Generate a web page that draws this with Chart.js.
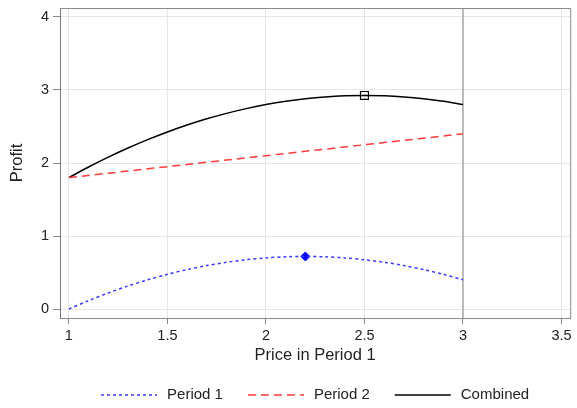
<!DOCTYPE html>
<html>
<head>
<meta charset="utf-8">
<script src="https://cdn.jsdelivr.net/npm/chart.js@4.4.1/dist/chart.umd.min.js"></script>
<style>
  html, body { margin: 0; padding: 0; background: #fff; }
</style>
</head>
<body>
<canvas id="profit-chart" width="577" height="408"></canvas>
<script>
const prices = [1.0, 1.1, 1.2, 1.3, 1.4, 1.5, 1.6, 1.7, 1.8, 1.9, 2.0, 2.1, 2.2, 2.3, 2.4, 2.5, 2.6, 2.7, 2.8, 2.9, 3.0];
const period1 = [0, 0.115, 0.22, 0.315, 0.40, 0.475, 0.54, 0.595, 0.64, 0.675, 0.70, 0.715, 0.72, 0.715, 0.70, 0.675, 0.64, 0.595, 0.54, 0.475, 0.40];
const period2 = [1.80, 1.83, 1.86, 1.89, 1.92, 1.95, 1.98, 2.01, 2.04, 2.07, 2.10, 2.13, 2.16, 2.19, 2.22, 2.25, 2.28, 2.31, 2.34, 2.37, 2.40];
const combined = [1.80, 1.945, 2.08, 2.205, 2.32, 2.425, 2.52, 2.605, 2.68, 2.745, 2.80, 2.845, 2.88, 2.905, 2.92, 2.925, 2.92, 2.905, 2.88, 2.845, 2.80];

// optimum markers
const peak1X = [2.2];
const peak1Y = [0.72];
const peakCombX = [2.5];
const peakCombY = [2.925];

const capPrice = 3; // vertical reference line

const xTicks = [1, 1.5, 2, 2.5, 3, 3.5];
const yTicks = [0, 1, 2, 3, 4];

const blue = "#3a3aff";
const red = "#ff3a3a";
const black = "#000000";
const textColor = "#222222";
const gridColor = "#e6e6e6";
const axisColor = "#8a8a8a";

Chart.defaults.font.family = "'Liberation Sans', Arial, sans-serif";

const toPoints = (xs, ys) => xs.map((x, i) => ({ x: x, y: ys[i] }));

const legendItems = [
  { text: "Period 1", color: blue, dash: [3, 3] },
  { text: "Period 2", color: red, dash: [8, 5] },
  { text: "Combined", color: black, dash: [] },
];

// frame, vertical line at the price cap, and the bottom legend
const extras = {
  id: "extras",
  beforeDatasetsDraw(chart) {
    const { ctx, chartArea, scales } = chart;
    const px = scales.x.getPixelForValue(capPrice);
    ctx.save();
    ctx.strokeStyle = "#a8a8a8";
    ctx.lineWidth = 1.5;
    ctx.beginPath();
    ctx.moveTo(px, chartArea.top);
    ctx.lineTo(px, chartArea.bottom);
    ctx.stroke();
    ctx.restore();
  },
  afterDraw(chart) {
    const { ctx, chartArea } = chart;
    ctx.save();
    ctx.strokeStyle = axisColor;
    ctx.lineWidth = 1;
    ctx.beginPath();
    ctx.moveTo(chartArea.left, chartArea.top + 0.5);
    ctx.lineTo(chartArea.right + 0.5, chartArea.top + 0.5);
    ctx.lineTo(chartArea.right + 0.5, chartArea.bottom);
    ctx.stroke();

    // legend
    ctx.font = "15px 'Liberation Sans', Arial, sans-serif";
    const lineLen = 56, gap = 10, spacing = 25;
    const widths = legendItems.map((it) => ctx.measureText(it.text).width);
    const total = legendItems.length * (lineLen + gap) + widths.reduce((a, b) => a + b, 0) + spacing * (legendItems.length - 1);
    let x = (chartArea.left + chartArea.right) / 2 - total / 2;
    const y = 395;
    ctx.textBaseline = "middle";
    legendItems.forEach((it, i) => {
      ctx.strokeStyle = it.color;
      ctx.lineWidth = 1.5;
      ctx.setLineDash(it.dash);
      ctx.beginPath();
      ctx.moveTo(x, y);
      ctx.lineTo(x + lineLen, y);
      ctx.stroke();
      ctx.setLineDash([]);
      ctx.fillStyle = textColor;
      ctx.fillText(it.text, x + lineLen + gap, y);
      x += lineLen + gap + widths[i] + spacing;
    });
    ctx.restore();
  },
};

new Chart(document.getElementById("profit-chart").getContext("2d"), {
  type: "line",
  data: {
    datasets: [
      {
        label: "Period 1",
        data: toPoints(prices, period1),
        borderColor: blue,
        borderWidth: 1.5,
        borderDash: [3, 3],
        pointRadius: 0,
        tension: 0.3,
      },
      {
        label: "Period 2",
        data: toPoints(prices, period2),
        borderColor: red,
        borderWidth: 1.5,
        borderDash: [8, 5],
        pointRadius: 0,
      },
      {
        label: "Combined",
        data: toPoints(prices, combined),
        borderColor: black,
        borderWidth: 1.5,
        pointRadius: 0,
        tension: 0.3,
      },
      {
        label: "Period 1 max",
        data: toPoints(peak1X, peak1Y),
        showLine: false,
        pointStyle: "rectRot",
        pointRadius: 4.5,
        backgroundColor: "#0000ff",
        borderColor: "#0000ff",
        borderWidth: 1,
      },
      {
        label: "Combined max",
        data: toPoints(peakCombX, peakCombY),
        showLine: false,
        pointStyle: "rect",
        pointRadius: 5.6,
        backgroundColor: "rgba(255,255,255,0)",
        borderColor: black,
        borderWidth: 1.2,
      },
    ],
  },
  options: {
    responsive: false,
    animation: false,
    layout: {
      // right padding is 1 because the layout keeps 2px extra on that side
      padding: { top: 8, right: 1, left: 0, bottom: 43 },
    },
    plugins: {
      legend: { display: false },
      tooltip: { enabled: false },
    },
    scales: {
      x: {
        type: "linear",
        min: 0.955,
        max: 3.544,
        afterBuildTicks: (scale) => {
          scale.ticks = xTicks.map((v) => ({ value: v }));
        },
        afterFit: (scale) => {
          scale.height = 47;
          scale.paddingLeft = 0;
          scale.paddingRight = 0;
        },
        ticks: {
          color: textColor,
          font: { size: 14.5 },
          padding: 3,
          maxRotation: 0,
          autoSkip: false,
          callback: (v) => String(v),
        },
        grid: {
          color: gridColor,
          tickColor: axisColor,
          tickLength: 6,
        },
        border: { color: axisColor, width: 1 },
        title: {
          display: true,
          text: "Price in Period 1",
          color: textColor,
          font: { size: 16.5 },
          padding: { top: 0, bottom: 0 },
        },
      },
      y: {
        type: "linear",
        min: -0.123,
        max: 4.123,
        afterBuildTicks: (scale) => {
          scale.ticks = yTicks.map((v) => ({ value: v }));
        },
        afterFit: (scale) => {
          scale.width = 60;
          scale.paddingTop = 0;
          scale.paddingBottom = 0;
        },
        ticks: {
          color: textColor,
          font: { size: 14.5 },
          padding: 4,
          callback: (v) => String(v),
        },
        grid: {
          color: gridColor,
          tickColor: axisColor,
          tickLength: 7,
        },
        border: { color: "#7a7a7a", width: 1 },
        title: {
          display: true,
          text: "Profit",
          color: textColor,
          font: { size: 16.5 },
          padding: { top: 8, bottom: 0 },
        },
      },
    },
  },
  plugins: [extras],
});
</script>
</body>
</html>
